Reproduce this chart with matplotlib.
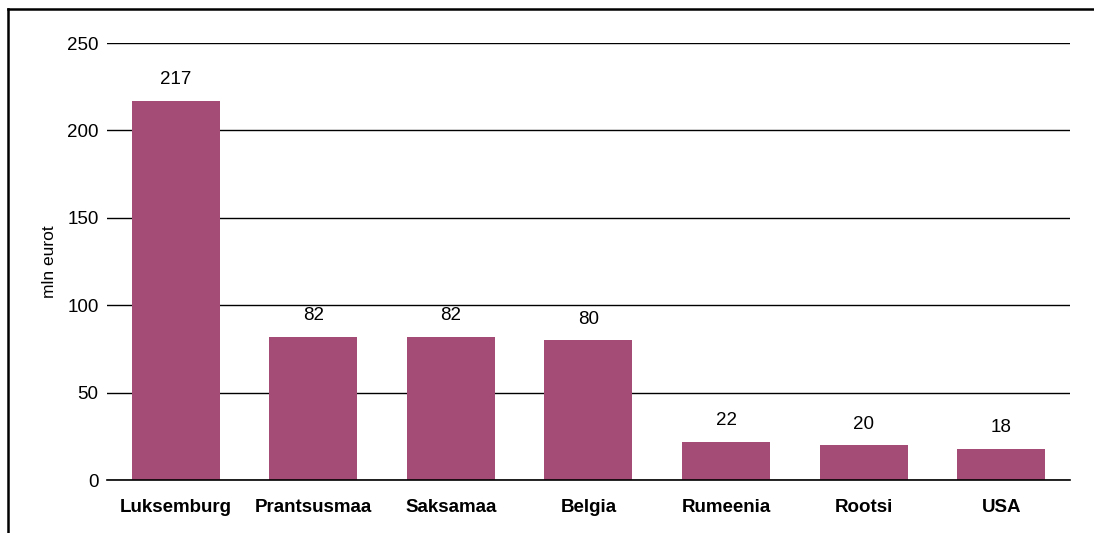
import matplotlib.pyplot as plt
from matplotlib.lines import Line2D

countries = ['Luksemburg', 'Prantsusmaa', 'Saksamaa', 'Belgia', 'Rumeenia', 'Rootsi', 'USA']
values = [217, 82, 82, 80, 22, 20, 18]
labels = ['217', '82', '82', '80', '22', '20', '18']
yticks = [0, 50, 100, 150, 200, 250]

plt.rcParams['font.family'] = ['Liberation Sans', 'DejaVu Sans']

fig = plt.figure(figsize=(10.94, 5.33), dpi=100)
ax = fig.add_axes([0.0978, 0.0994, 0.8802, 0.8199])

x = range(len(countries))
ax.bar(x, values, width=0.64, color='#A44B76', zorder=3)
for xi, v, lab in zip(x, values, labels):
    ax.annotate(lab, (xi, v), xytext=(0, 9), textcoords='offset points',
                ha='center', va='bottom', fontsize=13.5)

ax.set_xlim(-0.5, 6.5)
ax.set_ylim(0, 250)
ax.set_yticks(yticks)
ax.grid(axis='y', color='black', linewidth=1, zorder=0)
ax.axhline(0, color='black', linewidth=1.2, zorder=4, clip_on=False)
ax.set_axisbelow(True)
for s in ax.spines.values():
    s.set_visible(False)
ax.set_xticks(list(x))
ax.set_xticklabels(countries, fontweight='bold', fontsize=13.5)
ax.tick_params(axis='x', length=0, pad=14)
ax.tick_params(axis='y', length=0, pad=6, labelsize=13.5)
ax.set_ylabel('mln eurot', fontsize=12.5, labelpad=7)

# partial frame, top and left
fig.add_artist(Line2D([8/1094, 1], [1 - 9/533, 1 - 9/533], color='black', lw=1.8))
fig.add_artist(Line2D([8/1094, 8/1094], [0, 1 - 9/533], color='black', lw=1.8))

fig.savefig('out.png', dpi=100)
